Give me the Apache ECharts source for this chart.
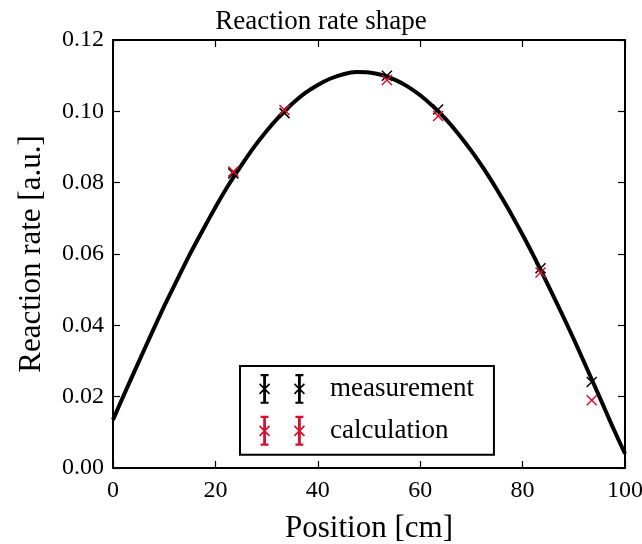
<!DOCTYPE html>
<html>
<head>
<meta charset="utf-8">
<script src="https://cdn.jsdelivr.net/npm/echarts@6/dist/echarts.min.js"></script>
<style>
html,body{margin:0;padding:0;background:#fff;}
#chart{width:642px;height:544px;}
</style>
</head>
<body>
<div id="chart"></div>
<script>
// ---- data ----
const positions = [23.5, 33.5, 53.5, 63.5, 83.5, 93.5];
const measurement = [0.0826, 0.0995, 0.1100, 0.1005, 0.0560, 0.0241];
const calculation = [0.0831, 0.1004, 0.1088, 0.0987, 0.0548, 0.0190];
const curveX = [0, 2.5, 5, 7.5, 10, 12.5, 15, 17.5, 20, 22.5, 25, 27.5, 30, 32.5, 35, 37.5, 40, 42.5, 45, 47.5,
                50, 52.5, 55, 57.5, 60, 62.5, 65, 67.5, 70, 72.5, 75, 77.5, 80, 82.5, 85, 87.5, 90, 92.5, 95, 97.5, 100];
const curveY = [0.0135, 0.0217, 0.0297, 0.0376, 0.0454, 0.0527, 0.0599, 0.0666, 0.0731, 0.0792, 0.0847,
                0.0899, 0.0945, 0.0986, 0.1021, 0.1051, 0.1074, 0.1092, 0.1104, 0.1110, 0.1109,
                0.1102, 0.1089, 0.1070, 0.1045, 0.1014, 0.0978, 0.0936, 0.0889, 0.0837, 0.0780,
                0.0719, 0.0654, 0.0585, 0.0512, 0.0438, 0.0361, 0.0281, 0.0200, 0.0118, 0.0040];
const xTicks = { min: 0, max: 100, interval: 20 };
const yTicks = { min: 0, max: 0.12, interval: 0.02 };
const titleText = 'Reaction rate shape';
const xName = 'Position [cm]';
const yName = 'Reaction rate [a.u.]';
const seriesNames = ['measurement', 'calculation'];

const FONT = '"Liberation Serif", "DejaVu Serif", serif';
const RED = '#d6102e';

function pairs(xs, ys) { return xs.map((x, i) => [x, ys[i]]); }

function markerPath(cx) {
  // error bar + caps + small cross (all sub-paths same winding)
  return 'M' + (cx - 1.4) + ' 0H' + (cx + 1.4) + 'V30H' + (cx - 1.4) + 'Z' +
    'M' + (cx - 4) + ' 0H' + (cx + 4) + 'V2.2H' + (cx - 4) + 'Z' +
    'M' + (cx - 4) + ' 27.8H' + (cx + 4) + 'V30H' + (cx - 4) + 'Z' +
    'M' + (cx - 5.6) + ' 10.6L' + (cx - 4.4) + ' 9.4L' + (cx + 5.6) + ' 19.4L' + (cx + 4.4) + ' 20.6Z' +
    'M' + (cx + 4.4) + ' 9.4L' + (cx + 5.6) + ' 10.6L' + (cx - 4.4) + ' 20.6L' + (cx - 5.6) + ' 19.4Z';
}
const legendIcon = 'path://' + markerPath(5.6) + markerPath(40.6);

function xRender(color) {
  return function (params, api) {
    const p = api.coord([api.value(0), api.value(1)]);
    const s = 5;
    const st = { stroke: color, lineWidth: 1.5 };
    return {
      type: 'group',
      children: [
        { type: 'line', shape: { x1: p[0] - s, y1: p[1] - s, x2: p[0] + s, y2: p[1] + s }, style: st },
        { type: 'line', shape: { x1: p[0] - s, y1: p[1] + s, x2: p[0] + s, y2: p[1] - s }, style: st }
      ]
    };
  };
}

const axisLine = { show: true, onZero: false, lineStyle: { color: '#000', width: 2 } };
const axisTick = { show: true, inside: true, length: 7, lineStyle: { color: '#000', width: 1.2 } };

const chart = echarts.init(document.getElementById('chart'), null, { renderer: 'canvas' });
chart.setOption({
  animation: false,
  backgroundColor: '#fff',
  title: {
    text: titleText, left: 'center', top: 3,
    textStyle: { fontFamily: FONT, fontSize: 27, fontWeight: 'normal', color: '#000' }
  },
  grid: { left: 113, right: 17, top: 40, bottom: 76, outerBoundsMode: 'none', containLabel: false },
  legend: {
    data: seriesNames,
    orient: 'vertical',
    left: 240, top: 366,
    icon: legendIcon,
    itemWidth: 46, itemHeight: 30, itemGap: 12,
    padding: [8, 20, 9, 19],
    borderColor: '#000', borderWidth: 2, borderRadius: 0,
    backgroundColor: '#fff',
    textStyle: { fontFamily: FONT, fontSize: 27, color: '#000', padding: [0, 0, 0, 20] }
  },
  xAxis: [
    {
      type: 'value', min: xTicks.min, max: xTicks.max, interval: xTicks.interval,
      name: xName, nameLocation: 'middle', nameGap: 45,
      nameTextStyle: { fontFamily: FONT, fontSize: 31, color: '#000' },
      axisLine: axisLine, axisTick: axisTick,
      axisLabel: { fontFamily: FONT, fontSize: 24, color: '#000', margin: 11 },
      splitLine: { show: false }
    },
    {
      type: 'value', position: 'top', min: xTicks.min, max: xTicks.max, interval: xTicks.interval,
      axisLine: axisLine, axisTick: axisTick, axisLabel: { show: false }, splitLine: { show: false }
    }
  ],
  yAxis: [
    {
      type: 'value', min: yTicks.min, max: yTicks.max, interval: yTicks.interval,
      name: yName, nameLocation: 'middle', nameGap: 66, nameRotate: 90,
      nameTextStyle: { fontFamily: FONT, fontSize: 31, color: '#000' },
      axisLine: axisLine, axisTick: axisTick,
      axisLabel: { fontFamily: FONT, fontSize: 24, color: '#000', margin: 9, formatter: v => v.toFixed(2) },
      splitLine: { show: false }
    },
    {
      type: 'value', position: 'right', min: yTicks.min, max: yTicks.max, interval: yTicks.interval,
      axisLine: axisLine, axisTick: axisTick, axisLabel: { show: false }, splitLine: { show: false }
    }
  ],
  series: [
    {
      type: 'line', name: 'fit', data: pairs(curveX, curveY), smooth: 0.2, showSymbol: false,
      lineStyle: { color: '#000', width: 4 }, z: 2
    },
    {
      type: 'custom', name: seriesNames[0], data: pairs(positions, measurement),
      renderItem: xRender('#000'), itemStyle: { color: '#000' }, z: 3
    },
    {
      type: 'custom', name: seriesNames[1], data: pairs(positions, calculation),
      renderItem: xRender(RED), itemStyle: { color: RED }, z: 4
    }
  ]
});
</script>
</body>
</html>
